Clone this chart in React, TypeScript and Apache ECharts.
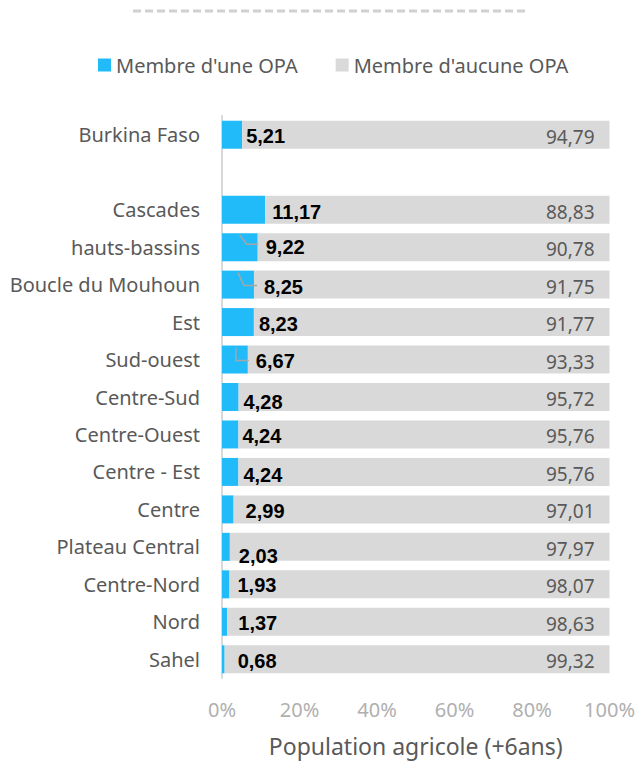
import React, { useEffect, useRef } from "react";
import * as echarts from "echarts";

const categories = [
  "Burkina Faso",
  "",
  "Cascades",
  "hauts-bassins",
  "Boucle du Mouhoun",
  "Est",
  "Sud-ouest",
  "Centre-Sud",
  "Centre-Ouest",
  "Centre - Est",
  "Centre",
  "Plateau Central",
  "Centre-Nord",
  "Nord",
  "Sahel",
];
const membreUne = [5.21, null, 11.17, 9.22, 8.25, 8.23, 6.67, 4.28, 4.24, 4.24, 2.99, 2.03, 1.93, 1.37, 0.68];
const membreAucune = [94.79, null, 88.83, 90.78, 91.75, 91.77, 93.33, 95.72, 95.76, 95.76, 97.01, 97.97, 98.07, 98.63, 99.32];
const seriesNames = ["Membre d'une OPA", "Membre d'aucune OPA"];
const xTicks = { min: 0, max: 100, interval: 20 };
const axisTitle = "Population agricole (+6ans)";

// Excel's manual label placement (px): gap after the bar end, and vertical shift
const labelGap = [4, 0, 7, 8, 10, 5, 8, 5, 4, 5, 12, 9, 8, 11, 13];
const labelShift = [1.5, 0, 2, 0, 2, 2, 1.5, 5, 2, 3, 2, 9.5, 1, 1, 2];

// leader lines drawn by Excel for moved labels (px relative to bar end / bar center)
const leaderIdx = [3, 4, 6];
const leaderShapes: Record<number, number[][]> = {
  3: [[-18, -12], [-11, -3], [0, -3]],
  4: [[-16, -12], [-10, 1], [3, 1]],
  6: [[-12, -12], [-12, 1], [1, 1]],
};

const fmt = (v: number) => v.toFixed(2).replace(".", ",");
const FONT = "'Noto Sans', 'Open Sans', sans-serif";
const dashed = {
  type: "line",
  shape: { x1: 133, y1: 11, x2: 526, y2: 11 },
  style: { stroke: "#d0d0d0", lineWidth: 3, lineDash: [8, 4] },
};

export default function App() {
  const ref = useRef<HTMLDivElement>(null);
  useEffect(() => {
    document.body.style.margin = "0";
    const chart = echarts.init(ref.current!, null, { renderer: "svg" });
    chart.setOption({
      animation: false,
      textStyle: { fontFamily: FONT },
      legend: {
        top: 50,
        left: 93,
        itemWidth: 13,
        itemHeight: 13,
        itemGap: 38,
        icon: "rect",
        textStyle: { fontSize: 20, color: "#595959", fontFamily: FONT },
        data: seriesNames,
      },
      graphic: [dashed],
      grid: { left: 222, right: 28, top: 116, bottom: 84 },
      xAxis: {
        type: "value",
        min: xTicks.min,
        max: xTicks.max,
        interval: xTicks.interval,
        splitLine: { show: false },
        axisLine: { show: false },
        axisTick: { show: false },
        axisLabel: {
          formatter: "{value}%",
          color: "#b0b0b0",
          fontSize: 20,
          margin: 21,
          fontFamily: FONT,
        },
        name: axisTitle,
        nameLocation: "middle",
        nameGap: 56,
        nameTextStyle: { fontSize: 23, color: "#595959", fontFamily: FONT },
      },
      yAxis: {
        type: "category",
        data: categories,
        inverse: true,
        axisLine: { show: true, lineStyle: { color: "#d9d9d9", width: 2 } },
        axisTick: { show: false },
        axisLabel: { fontSize: 20, color: "#595959", margin: 22, fontFamily: FONT },
      },
      series: [
        {
          name: seriesNames[0],
          type: "bar",
          stack: "total",
          barWidth: 28,
          data: membreUne.map((v, i) =>
            v == null ? v : { value: v, label: { distance: labelGap[i], offset: [0, labelShift[i]] } }
          ),
          itemStyle: { color: "#22BBF9" },
          label: {
            show: true,
            position: "right",
            formatter: (p: any) => fmt(p.value),
            color: "#000",
            fontWeight: "bold",
            fontSize: 20,
            fontFamily: "'Liberation Sans', Arial, sans-serif",
          },
        },
        {
          name: seriesNames[1],
          type: "bar",
          stack: "total",
          barWidth: 28,
          data: membreAucune,
          itemStyle: { color: "#D9D9D9" },
          label: {
            show: true,
            position: "insideRight",
            distance: 15,
            offset: [0, 2],
            formatter: (p: any) => fmt(p.value),
            color: "#595959",
            fontSize: 19,
            fontFamily: FONT,
          },
        },
      ],
    });
    const lines = leaderIdx.map((i) => {
      const [px, py] = chart.convertToPixel({ gridIndex: 0 }, [membreUne[i] as number, i]) as number[];
      return {
        type: "polyline",
        shape: { points: leaderShapes[i].map(([dx, dy]) => [px + dx, py + dy]) },
        style: { stroke: "#a6a6a6", lineWidth: 1.5, fill: null },
        z: 100,
      };
    });
    chart.setOption({ graphic: [dashed, ...lines] });
    return () => chart.dispose();
  }, []);
  return <div ref={ref} style={{ width: 638, height: 762 }} />;
}
